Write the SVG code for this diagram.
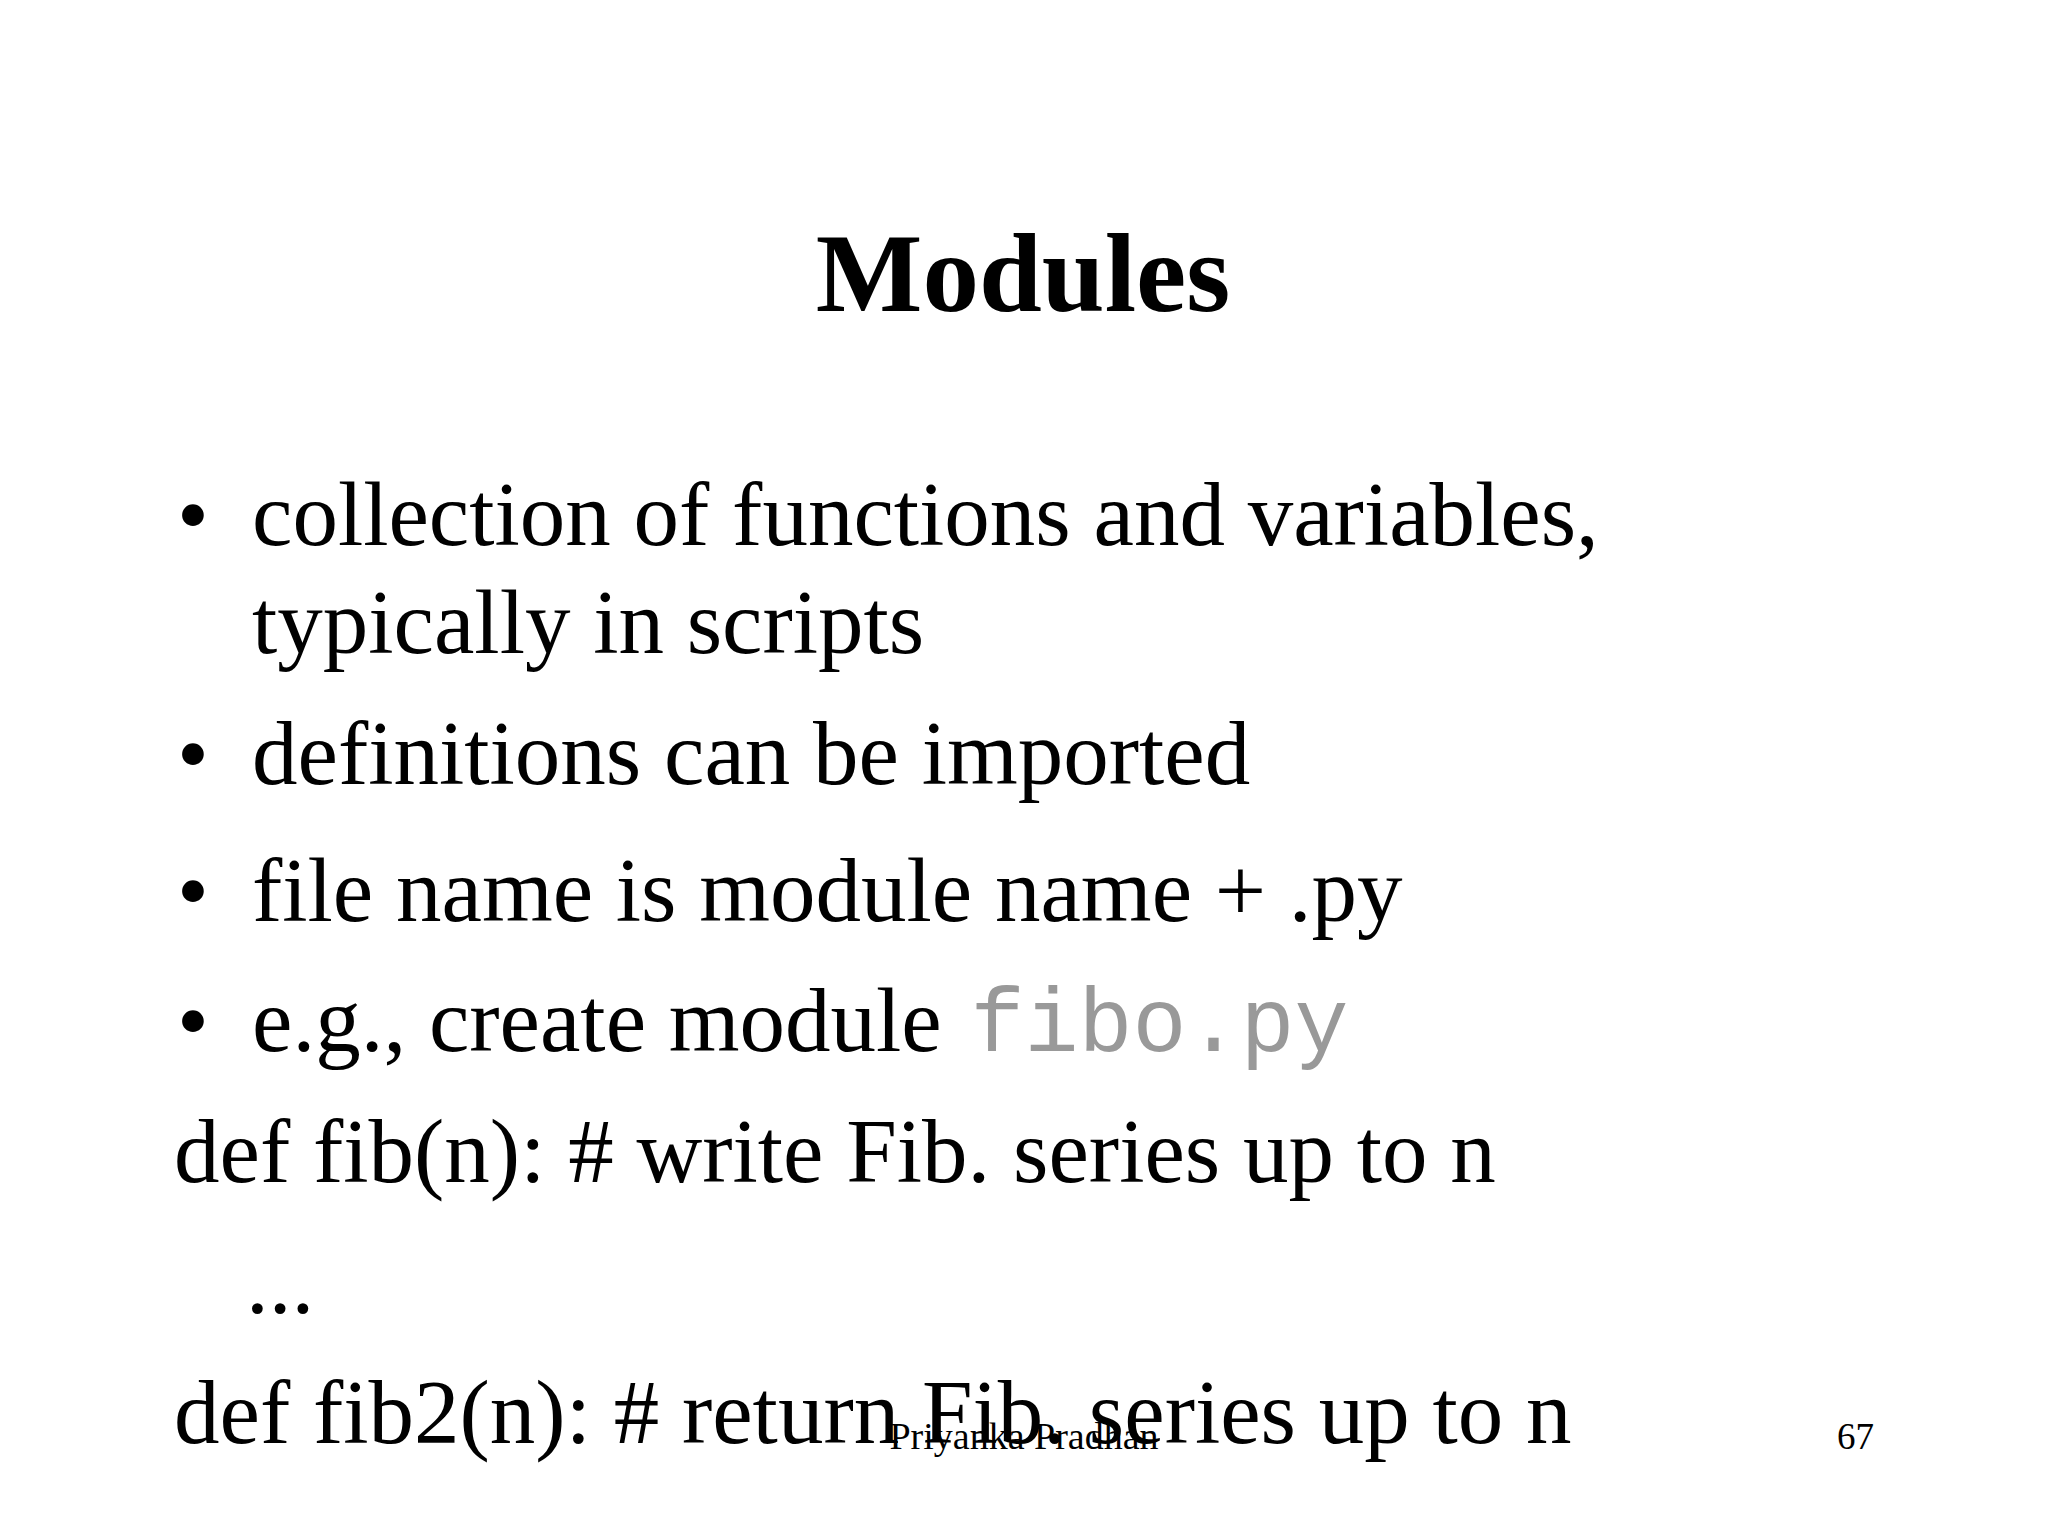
<svg xmlns="http://www.w3.org/2000/svg" width="2048" height="1536" viewBox="0 0 2048 1536">
<style>
.t{font-family:"Liberation Serif","Times New Roman",serif;fill:#000}
.b{font-size:91px}
.m{font-family:"Liberation Mono","Courier New",monospace;fill:#999;font-size:90px}
</style>
<rect width="2048" height="1536" fill="#fff"/>
<text class="t" x="1023" y="311" font-size="113" font-weight="bold" text-anchor="middle">Modules</text>
<g class="t b">
<text x="177" y="545">•</text><text x="252" y="545">collection of functions and variables,</text>
<text x="252" y="653">typically in scripts</text>
<text x="177" y="784">•</text><text x="252" y="784">definitions can be imported</text>
<text x="177" y="921">•</text><text x="252" y="921">file name is module name + .py</text>
<text x="177" y="1051">•</text><text x="252" y="1051">e.g., create module <tspan class="m" dx="6">fibo.py</tspan></text>
<text x="174" y="1182">def fib(n): # write Fib. series up to n</text>
<text x="246" y="1313">...</text>
<text x="174" y="1443">def fib2(n): # return Fib. series up to n</text>
</g>
<text class="t" x="1024" y="1449" font-size="38" text-anchor="middle">Priyanka Pradhan</text>
<text class="t" x="1874" y="1449" font-size="37" text-anchor="end">67</text>
</svg>
